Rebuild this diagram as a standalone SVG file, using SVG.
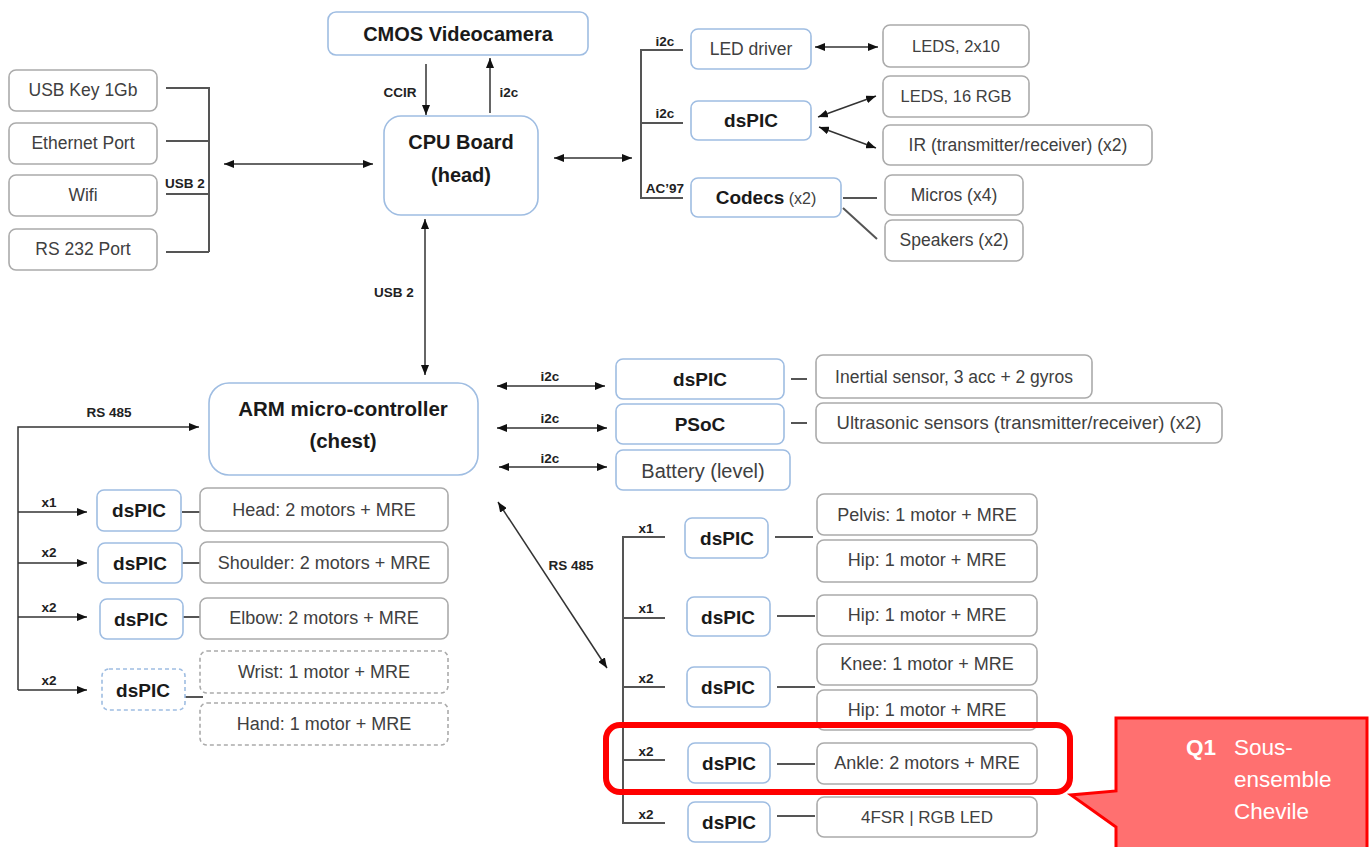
<svg xmlns="http://www.w3.org/2000/svg" width="1371" height="847" viewBox="0 0 1371 847">
<style>
.bb{fill:#fff;stroke:#9fbde2;stroke-width:1.6}
.gb{fill:#fff;stroke:#ababab;stroke-width:1.6}
.dash{stroke-dasharray:4 3}
.ln{stroke:#333;stroke-width:1.5;fill:none}
.bus{stroke:#555;stroke-width:2;fill:none}
.t{font-family:"Liberation Sans",Arial,sans-serif;fill:#404040;text-anchor:middle;font-size:17.5px}
.tb{font-family:"Liberation Sans",Arial,sans-serif;font-weight:bold;fill:#1a1a1a;text-anchor:middle;font-size:19px}
.lb{font-family:"Liberation Sans",Arial,sans-serif;font-weight:bold;font-size:13.5px;fill:#222}
.q{font-family:"Liberation Sans",Arial,sans-serif;fill:#fff;font-size:22.5px}
</style>
<defs>
<marker id="ah" viewBox="0 0 10 8" refX="10" refY="4" markerWidth="10" markerHeight="8" markerUnits="userSpaceOnUse" orient="auto-start-reverse">
<path d="M0,0 L10,4 L0,8 z" fill="#111"/>
</marker>
</defs>
<rect width="1371" height="847" fill="#fff"/>

<g id="connectors">
<!-- left USB bus -->
<path class="bus" d="M166,88 H209 V252 M166,141 H209 M166,194 H209 M166,252 H209"/>
<line class="ln" x1="224" y1="164" x2="373" y2="164" marker-start="url(#ah)" marker-end="url(#ah)"/>
<!-- camera -->
<line class="ln" x1="426" y1="64" x2="426" y2="115" marker-end="url(#ah)"/>
<line class="ln" x1="490" y1="113" x2="490" y2="58" marker-end="url(#ah)"/>
<!-- CPU to right bus -->
<line class="ln" x1="554" y1="158" x2="632" y2="158" marker-start="url(#ah)" marker-end="url(#ah)"/>
<path class="bus" d="M683,50 H641 V198 H683 M641,123 H683"/>
<line class="ln" x1="815" y1="47" x2="878" y2="47" marker-start="url(#ah)" marker-end="url(#ah)"/>
<line class="ln" x1="818" y1="117" x2="876" y2="96" marker-start="url(#ah)" marker-end="url(#ah)"/>
<line class="ln" x1="819" y1="127" x2="876" y2="148" marker-start="url(#ah)" marker-end="url(#ah)"/>
<path class="bus" d="M843,198 H877 M843,208 L877,239"/>
<!-- USB 2 vertical -->
<line class="ln" x1="425" y1="219" x2="425" y2="375" marker-start="url(#ah)" marker-end="url(#ah)"/>
<!-- ARM i2c -->
<line class="ln" x1="497" y1="386" x2="605" y2="386" marker-start="url(#ah)" marker-end="url(#ah)"/>
<line class="ln" x1="497" y1="428" x2="607" y2="428" marker-start="url(#ah)" marker-end="url(#ah)"/>
<line class="ln" x1="499" y1="467" x2="607" y2="467" marker-start="url(#ah)" marker-end="url(#ah)"/>
<path class="bus" d="M791,379 H807 M791,423 H807"/>
<!-- left RS485 -->
<path class="ln" d="M18,690 V427 H199" marker-end="url(#ah)"/>
<line class="ln" x1="18" y1="512" x2="87" y2="512" marker-end="url(#ah)"/>
<line class="ln" x1="18" y1="563" x2="87" y2="563" marker-end="url(#ah)"/>
<line class="ln" x1="18" y1="617" x2="87" y2="617" marker-end="url(#ah)"/>
<line class="ln" x1="18" y1="690" x2="87" y2="690" marker-end="url(#ah)"/>
<path class="bus" d="M182,512 H200 M182,563 H200 M183,617 H200 M185,697 H203"/>
<!-- diagonal RS485 -->
<line class="ln" x1="498" y1="502" x2="607" y2="668" marker-start="url(#ah)" marker-end="url(#ah)"/>
<!-- right bottom bus -->
<path class="bus" d="M665,537 H623 V823 H665 M623,618 H665 M623,687 H665 M623,760 H665"/>
<path class="bus" d="M775,537 H813 M777,616 H815 M777,687 H815 M777,764 H815 M777,816 H815"/>
</g>

<g id="labels">
<text class="lb" x="185" y="188" text-anchor="middle">USB 2</text>
<text class="lb" x="400" y="97" text-anchor="middle">CCIR</text>
<text class="lb" x="509" y="97" text-anchor="middle">i2c</text>
<text class="lb" x="665" y="46" text-anchor="middle">i2c</text>
<text class="lb" x="665" y="118" text-anchor="middle">i2c</text>
<text class="lb" x="665" y="193" text-anchor="middle">AC’97</text>
<text class="lb" x="394" y="297" text-anchor="middle">USB 2</text>
<text class="lb" x="550" y="381" text-anchor="middle">i2c</text>
<text class="lb" x="550" y="423" text-anchor="middle">i2c</text>
<text class="lb" x="550" y="463" text-anchor="middle">i2c</text>
<text class="lb" x="109" y="417" text-anchor="middle">RS 485</text>
<text class="lb" x="49" y="507" text-anchor="middle">x1</text>
<text class="lb" x="49" y="557" text-anchor="middle">x2</text>
<text class="lb" x="49" y="612" text-anchor="middle">x2</text>
<text class="lb" x="49" y="685" text-anchor="middle">x2</text>
<text class="lb" x="571" y="570" text-anchor="middle">RS 485</text>
<text class="lb" x="646" y="533" text-anchor="middle">x1</text>
<text class="lb" x="646" y="613" text-anchor="middle">x1</text>
<text class="lb" x="646" y="683" text-anchor="middle">x2</text>
<text class="lb" x="646" y="756" text-anchor="middle">x2</text>
<text class="lb" x="646" y="819" text-anchor="middle">x2</text>
</g>

<g id="cmos"><rect class="bb" x="328" y="12" width="260" height="43" rx="8"/><text class="tb" x="458" y="41" style="font-size:20px">CMOS Videocamera</text></g>
<g id="usbkey"><rect class="gb" x="9" y="70" width="148" height="41" rx="7"/><text class="t" x="83" y="96">USB Key 1Gb</text></g>
<g id="ethernet"><rect class="gb" x="9" y="123" width="148" height="41" rx="7"/><text class="t" x="83" y="149">Ethernet Port</text></g>
<g id="wifi"><rect class="gb" x="9" y="175" width="148" height="41" rx="7"/><text class="t" x="83" y="201">Wifi</text></g>
<g id="rs232"><rect class="gb" x="9" y="229" width="148" height="41" rx="7"/><text class="t" x="83" y="255">RS 232 Port</text></g>
<g id="cpu"><rect class="bb" x="384" y="116" width="154" height="99" rx="17"/><text class="tb" x="461" y="149" style="font-size:20px">CPU Board</text><text class="tb" x="461" y="182" style="font-size:20px">(head)</text></g>

<g id="leddriver"><rect class="bb" x="691" y="29" width="120" height="40" rx="7"/><text class="t" x="751" y="55">LED driver</text></g>
<g id="dspic-head"><rect class="bb" x="691" y="101" width="120" height="39" rx="7"/><text class="tb" x="751" y="127">dsPIC</text></g>
<g id="codecs"><rect class="bb" x="691" y="178" width="150" height="39" rx="7"/><text class="tb" x="766" y="204">Codecs<tspan style="font-weight:normal;font-size:16px;fill:#404040"> (x2)</tspan></text></g>
<g id="leds2x10"><rect class="gb" x="883" y="25" width="146" height="42" rx="7"/><text class="t" x="956" y="52" style="font-size:16.5px">LEDS, 2x10</text></g>
<g id="leds16"><rect class="gb" x="883" y="76" width="146" height="41" rx="7"/><text class="t" x="956" y="102" style="font-size:16.5px">LEDS, 16 RGB</text></g>
<g id="ir"><rect class="gb" x="883" y="125" width="269" height="40" rx="7"/><text class="t" x="1018" y="151">IR (transmitter/receiver) (x2)</text></g>
<g id="micros"><rect class="gb" x="885" y="175" width="138" height="40" rx="7"/><text class="t" x="954" y="201">Micros (x4)</text></g>
<g id="speakers"><rect class="gb" x="885" y="220" width="138" height="41" rx="7"/><text class="t" x="954" y="246">Speakers (x2)</text></g>

<g id="arm"><rect class="bb" x="209" y="383" width="269" height="92" rx="20"/><text class="tb" x="343" y="416" style="font-size:20.5px">ARM micro-controller</text><text class="tb" x="343" y="448" style="font-size:20.5px">(chest)</text></g>
<g id="dspic-inertial"><rect class="bb" x="616" y="359" width="168" height="40" rx="7"/><text class="tb" x="700" y="386">dsPIC</text></g>
<g id="psoc"><rect class="bb" x="616" y="404" width="168" height="40" rx="7"/><text class="tb" x="700" y="431">PSoC</text></g>
<g id="battery"><rect class="bb" x="616" y="450" width="174" height="40" rx="7"/><text class="t" x="703" y="478" style="font-size:20px">Battery (level)</text></g>
<g id="inertial"><rect class="gb" x="816" y="355" width="276" height="43" rx="7"/><text class="t" x="954" y="383">Inertial sensor, 3 acc + 2 gyros</text></g>
<g id="ultrasonic"><rect class="gb" x="816" y="403" width="406" height="40" rx="7"/><text class="t" x="1019" y="429" style="font-size:18.5px">Ultrasonic sensors (transmitter/receiver) (x2)</text></g>

<g id="dspic-l1"><rect class="bb" x="97" y="490" width="84" height="41" rx="7"/><text class="tb" x="139" y="517">dsPIC</text></g>
<g id="dspic-l2"><rect class="bb" x="98" y="543" width="84" height="40" rx="7"/><text class="tb" x="140" y="570">dsPIC</text></g>
<g id="dspic-l3"><rect class="bb" x="100" y="599" width="83" height="40" rx="7"/><text class="tb" x="141" y="626">dsPIC</text></g>
<g id="dspic-l4"><rect class="bb dash" x="102" y="669" width="83" height="41" rx="7"/><text class="tb" x="143" y="697">dsPIC</text></g>
<g id="head"><rect class="gb" x="200" y="488" width="248" height="43" rx="7"/><text class="t" x="324" y="516" style="font-size:18px">Head: 2 motors + MRE</text></g>
<g id="shoulder"><rect class="gb" x="200" y="542" width="248" height="41" rx="7"/><text class="t" x="324" y="569" style="font-size:18px">Shoulder: 2 motors + MRE</text></g>
<g id="elbow"><rect class="gb" x="200" y="598" width="248" height="41" rx="7"/><text class="t" x="324" y="624" style="font-size:18px">Elbow: 2 motors + MRE</text></g>
<g id="wrist"><rect class="gb dash" x="200" y="651" width="248" height="42" rx="7"/><text class="t" x="324" y="678" style="font-size:18px">Wrist: 1 motor + MRE</text></g>
<g id="hand"><rect class="gb dash" x="200" y="703" width="248" height="42" rx="7"/><text class="t" x="324" y="730" style="font-size:18px">Hand: 1 motor + MRE</text></g>

<g id="dspic-r1"><rect class="bb" x="685" y="518" width="83" height="40" rx="7"/><text class="tb" x="727" y="545">dsPIC</text></g>
<g id="dspic-r2"><rect class="bb" x="687" y="597" width="83" height="39" rx="7"/><text class="tb" x="728" y="624">dsPIC</text></g>
<g id="dspic-r3"><rect class="bb" x="687" y="667" width="83" height="40" rx="7"/><text class="tb" x="728" y="694">dsPIC</text></g>
<g id="dspic-r4"><rect class="bb" x="688" y="743" width="82" height="40" rx="7"/><text class="tb" x="729" y="770">dsPIC</text></g>
<g id="dspic-r5"><rect class="bb" x="688" y="802" width="82" height="40" rx="7"/><text class="tb" x="729" y="829">dsPIC</text></g>
<g id="pelvis"><rect class="gb" x="817" y="494" width="220" height="41" rx="7"/><text class="t" x="927" y="521" style="font-size:18px">Pelvis: 1 motor + MRE</text></g>
<g id="hip1"><rect class="gb" x="817" y="540" width="220" height="42" rx="7"/><text class="t" x="927" y="566" style="font-size:18px">Hip: 1 motor + MRE</text></g>
<g id="hip2"><rect class="gb" x="817" y="595" width="220" height="41" rx="7"/><text class="t" x="927" y="621" style="font-size:18px">Hip: 1 motor + MRE</text></g>
<g id="knee"><rect class="gb" x="817" y="644" width="220" height="41" rx="7"/><text class="t" x="927" y="670" style="font-size:18px">Knee: 1 motor + MRE</text></g>
<g id="hip3"><rect class="gb" x="817" y="690" width="220" height="40" rx="7"/><text class="t" x="927" y="716" style="font-size:18px">Hip: 1 motor + MRE</text></g>
<g id="ankle"><rect class="gb" x="817" y="743" width="220" height="41" rx="7"/><text class="t" x="927" y="769" style="font-size:18px">Ankle: 2 motors + MRE</text></g>
<g id="fsr"><rect class="gb" x="817" y="797" width="220" height="40" rx="7"/><text class="t" x="927" y="823" style="font-size:17px">4FSR | RGB LED</text></g>

<g id="highlight"><rect x="606" y="725" width="464" height="67" rx="14" fill="none" stroke="#ff0000" stroke-width="6"/></g>
<g id="callout">
<path d="M1116,718 H1367 V850 H1116 V827 L1071,795 L1116,791 Z" fill="#ff7070" stroke="#ff0000" stroke-width="3"/>
<text class="q" x="1186" y="755" style="font-weight:bold">Q1</text>
<text class="q" x="1234" y="755">Sous-</text>
<text class="q" x="1234" y="787">ensemble</text>
<text class="q" x="1234" y="819">Chevile</text>
</g>
</svg>
